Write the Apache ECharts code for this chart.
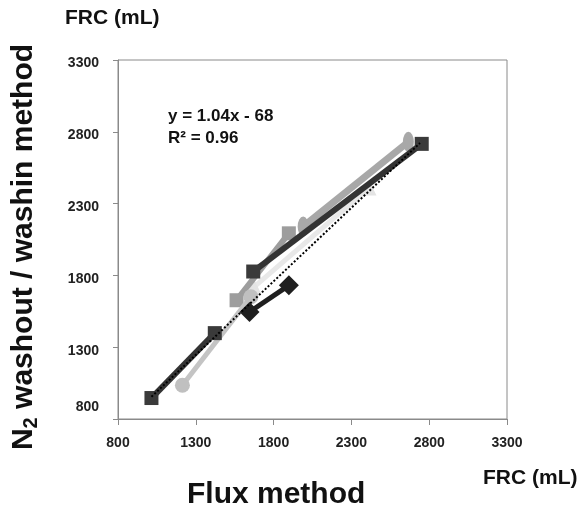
<!DOCTYPE html>
<html>
<head>
<meta charset="utf-8">
<script src="https://cdn.jsdelivr.net/npm/echarts@6/dist/echarts.min.js"></script>
<style>html,body{margin:0;padding:0;background:#fff;}#c{width:586px;height:512px;}</style>
</head>
<body>
<div id="c"></div>
<script>
// Tick values
const xTicks = [800, 1300, 1800, 2300, 2800, 3300];
const yTicks = [800, 1300, 1800, 2300, 2800, 3300];
// Series data [flux FRC, washout FRC]
const darkSquareA = [[1015, 946], [1422, 1398]];
const darkSquareB = [[1669, 1827], [2752, 2716]];
const blackDiamond = [[1645, 1545], [1898, 1731]];
const greySquare = [[1562, 1627], [1898, 2093]];
const lightCircle = [[1214, 1035], [1654, 1651]];
const greyEllipse = [[1990, 2140], [2666, 2730]];
const paleTriangle = [[1675, 1720], [2413, 2409]];
const trendLine = [[1015, 955], [2741, 2722]];
const equationText = 'y = 1.04x - 68';
const r2Text = 'R² = 0.96';

const FONT = '"Liberation Sans", Arial, Helvetica, sans-serif';
const chart = echarts.init(document.getElementById('c'));

function s(data, color, symbol, size, lw, lineColor, z) {
  return {
    type: 'line', data: data, symbol: symbol, symbolSize: size,
    itemStyle: { color: color, opacity: 1 },
    lineStyle: { color: lineColor || color, width: lw },
    z: z, animation: false, silent: true
  };
}

chart.setOption({
  animation: false,
  grid: { left: 118, right: 79, top: 60, bottom: 93, show: true, borderColor: '#8a8a8a', borderWidth: 1 },
  xAxis: {
    type: 'value', min: 800, max: 3300, interval: 500,
    axisLine: { show: true, lineStyle: { color: '#8a8a8a', width: 1 } },
    axisTick: { show: true, length: 6, lineStyle: { color: '#8a8a8a' } },
    splitLine: { show: false },
    axisLabel: {
      margin: 17, color: '#222', fontWeight: 'bold', fontSize: 14, fontFamily: FONT,
      formatter: function (v) { return xTicks.indexOf(v) >= 0 ? String(v) : ''; }
    }
  },
  yAxis: {
    type: 'value', min: 800, max: 3300, interval: 500,
    axisLine: { show: true, lineStyle: { color: '#8a8a8a', width: 1 } },
    axisTick: { show: true, length: 5, lineStyle: { color: '#8a8a8a' } },
    splitLine: { show: false },
    axisLabel: {
      margin: 19, color: '#222', fontWeight: 'bold', fontSize: 14, fontFamily: FONT,
      formatter: function (v) {
        if (yTicks.indexOf(v) < 0) return '';
        return v === yTicks[0] ? '{low|' + v + '}' : '{n|' + v + '}';
      },
      rich: {
        n: { fontWeight: 'bold', fontSize: 14, fontFamily: FONT, color: '#222', padding: [7, 0, 0, 0] },
        low: { fontWeight: 'bold', fontSize: 14, fontFamily: FONT, color: '#222', padding: [0, 0, 24, 0] }
      }
    }
  },
  series: [
    s(paleTriangle, '#e4e4e4', 'triangle', 15, 5, '#e8e8e8', 2),
    s(greySquare, '#9d9d9d', 'rect', 14, 6, '#9d9d9d', 3),
    s(greyEllipse, '#a8a8a8', 'circle', [11, 20], 7, '#a8a8a8', 4),
    s(lightCircle, '#c0c0c0', 'circle', 15, 5, '#c4c4c4', 5),
    s(darkSquareA, '#3a3a3a', 'rect', 14, 6, '#333333', 6),
    s(darkSquareB, '#3a3a3a', 'rect', 14, 6, '#333333', 6),
    s(blackDiamond, '#1f1f1f', 'diamond', 20, 5, '#1f1f1f', 7),
    {
      type: 'line', data: trendLine, symbol: 'none', z: 8, silent: true,
      lineStyle: { color: '#000', width: 2, type: [2, 2] }
    }
  ],
  graphic: [
    { type: 'text', left: 65, top: 8, style: { text: 'FRC (mL)', font: 'bold 21px ' + FONT, fill: '#111' } },
    { type: 'text', left: 483, top: 468, style: { text: 'FRC (mL)', font: 'bold 21px ' + FONT, fill: '#111' } },
    { type: 'text', left: 187, top: 480, style: { text: 'Flux method', font: 'bold 30px ' + FONT, fill: '#111' } },
    { type: 'text', left: 168, top: 108, style: { text: equationText, font: 'bold 17px ' + FONT, fill: '#111' } },
    { type: 'text', left: 168, top: 130, style: { text: r2Text, font: 'bold 17px ' + FONT, fill: '#111' } },
    {
      type: 'text', x: 24, y: 247, rotation: Math.PI / 2,
      style: {
        text: '{a|N}{s|2}{a| washout / washin method}',
        align: 'center', verticalAlign: 'middle', fill: '#111',
        rich: {
          a: { font: 'bold 30px ' + FONT, fill: '#111', lineHeight: 34 },
          s: { font: 'bold 20px ' + FONT, fill: '#111', verticalAlign: 'bottom', lineHeight: 20, padding: [12, 0, 0, 0] }
        }
      }
    }
  ]
});
</script>
</body>
</html>
